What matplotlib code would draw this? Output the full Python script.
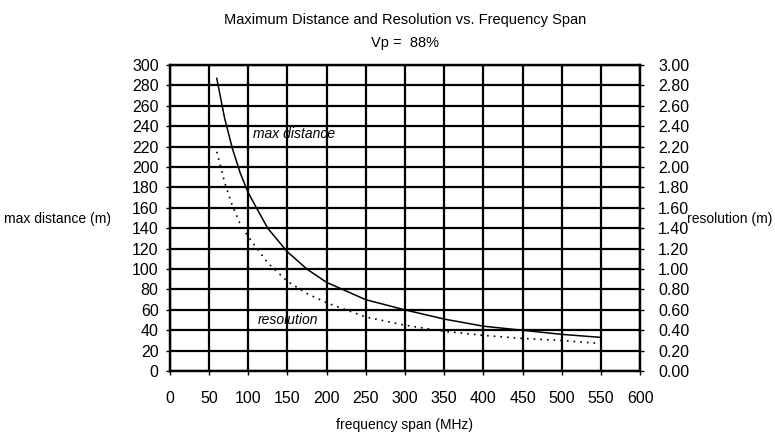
import matplotlib
matplotlib.use("Agg")
import matplotlib.pyplot as plt
from matplotlib.ticker import MultipleLocator

plt.rcParams['font.family'] = ['Liberation Sans', 'DejaVu Sans']

# frequency span (MHz)
freq = [60, 70, 80, 90, 100, 125, 150, 175, 200, 250, 300, 350, 400, 450, 500, 550]
# max distance (m), left axis
max_dist = [287, 248, 218, 194, 175, 140, 117, 100, 87, 70, 60, 51, 44, 40, 36, 33]
# resolution (m), right axis
resolution = [2.15, 1.85, 1.62, 1.44, 1.32, 1.06, 0.88, 0.76, 0.67, 0.53, 0.45, 0.39, 0.35, 0.32, 0.30, 0.27]

fig = plt.figure(figsize=(7.75, 4.34), dpi=100)
ax = fig.add_axes([0.219, 0.145, 0.607, 0.705])
ax2 = ax.twinx()

ax.plot(freq, max_dist, color='black', lw=1.1)
ax2.plot(freq, resolution, color='black', lw=1.2, ls=(0, (1, 3)))

ax.set_xlim(0, 600)
ax.set_ylim(0, 300)
ax2.set_ylim(0, 3.0)
ax.xaxis.set_major_locator(MultipleLocator(50))
ax.yaxis.set_major_locator(MultipleLocator(20))
ax2.yaxis.set_major_locator(MultipleLocator(0.2))
ax2.yaxis.set_major_formatter(lambda v, p: f"{v:.2f}")

ax.grid(True, color='black', lw=1.6)
for a in (ax, ax2):
    for s in a.spines.values():
        s.set_linewidth(1.6)
    a.tick_params(length=3, width=1, labelsize=11.5, colors='black')
ax.tick_params(axis='x', pad=11)
ax.tick_params(axis='y', pad=5)
ax2.tick_params(axis='y', pad=10)

ax.text(106, 229, 'max distance', style='italic', fontsize=10)
ax.text(112, 46, 'resolution', style='italic', fontsize=10)

ax.set_xlabel('frequency span (MHz)', fontsize=10, labelpad=9)
fig.text(0.005, 0.495, 'max distance (m)', fontsize=10, va='center', ha='left')
fig.text(0.886, 0.495, 'resolution (m)', fontsize=10, va='center', ha='left')
fig.text(0.523, 0.955, 'Maximum Distance and Resolution vs. Frequency Span', fontsize=10.5, ha='center', va='center')
fig.text(0.523, 0.900, 'Vp =  88%', fontsize=10.5, ha='center', va='center')

fig.savefig('out.png', dpi=100)
